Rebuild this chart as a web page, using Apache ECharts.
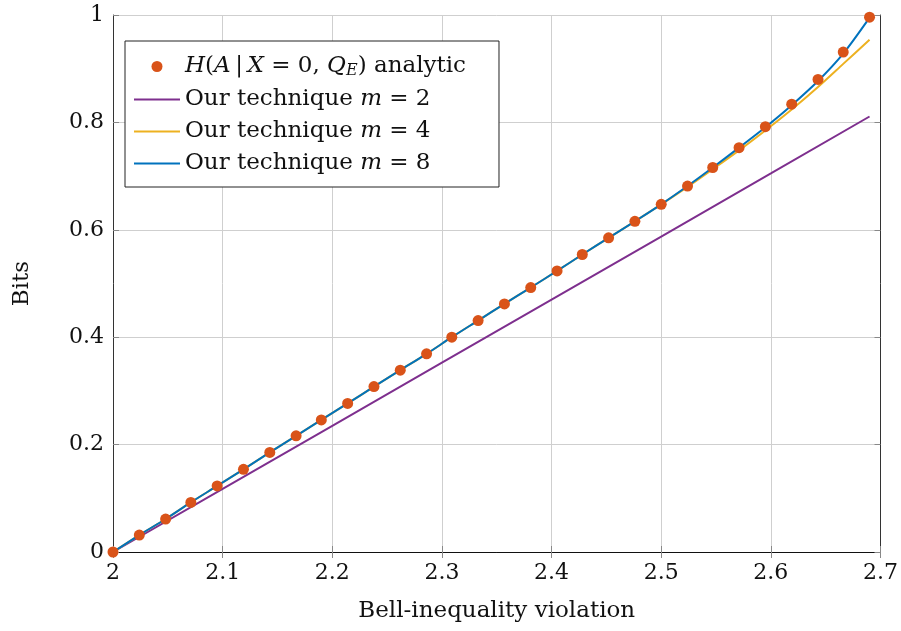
<!DOCTYPE html>
<html><head><meta charset="utf-8">
<script src="https://cdn.jsdelivr.net/npm/echarts@6/dist/echarts.min.js"></script>
<style>html,body{margin:0;padding:0;background:#fff}#c{width:901px;height:631px}</style>
</head><body><div id="c"></div>
<script>
const xVals = [2.000,2.024,2.048,2.071,2.095,2.119,2.143,2.167,2.190,2.214,2.238,2.262,2.286,2.309,2.333,2.357,2.381,2.405,2.428,2.452,2.476,2.500,2.524,2.547,2.571,2.595,2.619,2.643,2.666,2.690];
const analytic = [0,0.0316,0.0614,0.0924,0.123,0.154,0.1855,0.2164,0.246,0.2766,0.308,0.3386,0.369,0.400,0.431,0.462,0.4925,0.5234,0.554,0.585,0.6158,0.6474,0.6815,0.716,0.753,0.792,0.834,0.880,0.931,0.996];
const m8 = [0,0.0316,0.0614,0.0924,0.123,0.154,0.1855,0.2164,0.246,0.2766,0.308,0.3386,0.369,0.400,0.431,0.462,0.4925,0.5234,0.554,0.585,0.6158,0.6474,0.6815,0.716,0.753,0.791,0.832,0.877,0.928,0.995];
const m4 = [0,0.0316,0.0614,0.0924,0.123,0.154,0.1855,0.2164,0.246,0.2766,0.308,0.3386,0.369,0.400,0.431,0.462,0.4925,0.5234,0.554,0.585,0.6158,0.6474,0.680,0.713,0.748,0.785,0.824,0.866,0.909,0.954];
const m2x = [2.0,2.1,2.2,2.3,2.4,2.5,2.6,2.69];
const m2 = [0,0.1175,0.235,0.3525,0.470,0.5875,0.705,0.811];
const xTicks = [2,2.1,2.2,2.3,2.4,2.5,2.6,2.7];
const yTicks = [0,0.2,0.4,0.6,0.8,1];
const names = ['H(A|X = 0, Q_E) analytic','Our technique m = 2','Our technique m = 4','Our technique m = 8'];

const FONT = 'DejaVu Serif';
const FS = 22;
const FT = 23;
const pair = (xs, ys) => xs.map((x,i)=>[x, ys[i]]);
const chart = echarts.init(document.getElementById('c'));
const axBase = {
  axisLine:{show:true,lineStyle:{color:'#333',width:1}},
  axisTick:{show:true,inside:true,length:6,lineStyle:{color:'#888'}},
};
const dotIcon = 'path://M-23,-10 L-23,-10 M23,10 L23,10 M5.5,0 A5.5,5.5 0 1 1 -5.5,0 A5.5,5.5 0 1 1 5.5,0 Z';
const lineIcon = 'path://M0,0 L0,0 M46,20 L46,20 M0,9 L46,9 L46,11 L0,11 Z';
const base = {fontFamily:FONT,fontSize:FT,color:'#111'};
chart.setOption({
  animation:false,
  textStyle:{fontFamily:FONT},
  grid:{left:113,right:20,top:15,bottom:79},
  legend:{
    orient:'vertical',left:125,top:41,symbolKeepAspect:true,
    backgroundColor:'#fff',borderColor:'#222',borderWidth:1,
    padding:[14,33,12,9],itemWidth:46,itemHeight:20,itemGap:9,
    data:[
      {name:names[0],icon:dotIcon},
      {name:names[1],icon:lineIcon},{name:names[2],icon:lineIcon},{name:names[3],icon:lineIcon}
    ],
    textStyle:Object.assign({},base,{
      rich:{i:Object.assign({},base,{fontStyle:'italic'}),
            s:Object.assign({},base,{fontStyle:'italic',fontSize:16,padding:[9,0,0,0]}),
            n:Object.assign({},base)}}),
    formatter:function(n){
      if(n===names[0]) return '{i|H}{n|(}{i|A}{n|\u2009|\u2009}{i|X}{n| = 0, }{i|Q}{s|E}{n|) analytic}';
      const m = n.split('m = ')[1];
      return '{n|Our technique }{i|m}{n| = '+m+'}';
    }
  },
  xAxis:[
    Object.assign({type:'value',min:2,max:2.7,interval:0.1,position:'bottom',
      name:'Bell-inequality violation',nameLocation:'middle',nameGap:48,
      nameTextStyle:{fontFamily:FONT,fontSize:FT,color:'#111'},
      axisLabel:{fontFamily:FONT,fontSize:FS,color:'#111',margin:10,
        formatter:v=>{const t=xTicks.find(a=>Math.abs(a-v)<1e-6);return t===undefined?'':String(t);}},
      splitLine:{show:true,lineStyle:{color:'#cfcfcf',width:1}}},axBase),
    Object.assign({type:'value',min:2,max:2.7,interval:0.1,position:'top',
      axisLabel:{show:false},splitLine:{show:false}},axBase,{axisLine:{show:true,lineStyle:{color:'#111',width:1}}})
  ],
  yAxis:[
    Object.assign({type:'value',min:0,max:1,interval:0.2,position:'left',
      name:'Bits',nameLocation:'middle',nameGap:79,nameRotate:90,
      nameTextStyle:{fontFamily:FONT,fontSize:FT,color:'#111'},
      axisLabel:{fontFamily:FONT,fontSize:FS,color:'#111',margin:9,
        formatter:v=>{const t=yTicks.find(a=>Math.abs(a-v)<1e-6);return t===undefined?'':String(t);}},
      splitLine:{show:true,lineStyle:{color:'#cfcfcf',width:1}}},axBase),
    Object.assign({type:'value',min:0,max:1,interval:0.2,position:'right',
      axisLabel:{show:false},splitLine:{show:false}},axBase)
  ],
  series:[
    {name:names[0],type:'scatter',data:pair(xVals,analytic),symbol:'circle',symbolSize:11,
      itemStyle:{color:'#D95319',opacity:1},z:5},
    {name:names[1],type:'line',data:pair(m2x,m2),symbol:'none',smooth:false,
      lineStyle:{color:'#7E2F8E',width:2},itemStyle:{color:'#7E2F8E'},z:2},
    {name:names[2],type:'line',data:pair(xVals,m4),symbol:'none',smooth:0.3,
      lineStyle:{color:'#EDB120',width:2},itemStyle:{color:'#EDB120'},z:3},
    {name:names[3],type:'line',data:pair(xVals,m8),symbol:'none',smooth:0.3,
      lineStyle:{color:'#0072BD',width:2},itemStyle:{color:'#0072BD'},z:4}
  ]
});
</script></body></html>
